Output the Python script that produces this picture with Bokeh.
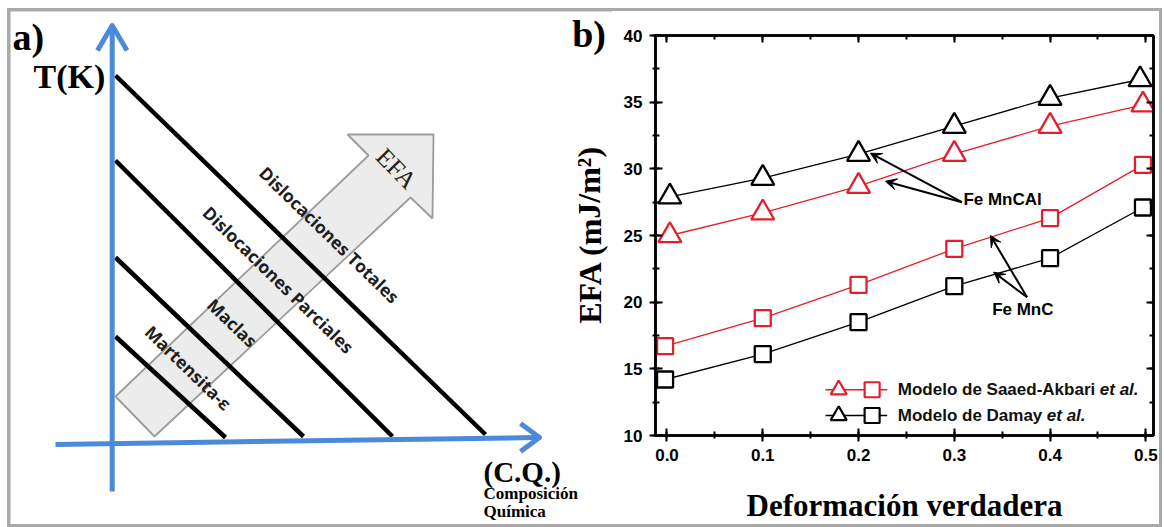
from bokeh.plotting import figure
from bokeh.layouts import row
from bokeh.models import (Range1d, LinearAxis, SingleIntervalTicker, PrintfTickFormatter,
                          CustomJSTickFormatter, Label, Arrow, VeeHead, InlineStyleSheet)
from bokeh.core.properties import value
from bokeh.embed import file_html
from bokeh.resources import INLINE

# ---------------- data (panel b) ----------------
deformacion_tri_damay = [0.003, 0.1, 0.2, 0.3, 0.4, 0.494]
efa_femncal_damay = [27.9, 29.3, 31.1, 33.2, 35.3, 36.7]
deformacion_tri_saaed = [0.003, 0.1, 0.2, 0.3, 0.4, 0.497]
efa_femncal_saaed = [25.0, 26.7, 28.7, 31.1, 33.2, 34.8]
deformacion_sq = [-0.002, 0.1, 0.2, 0.3, 0.4, 0.497]
efa_femnc_saaed = [16.7, 18.8, 21.3, 24.0, 26.3, 30.3]
efa_femnc_damay = [14.2, 16.1, 18.5, 21.2, 23.3, 27.1]
legend_labels = ["Modelo de Saaed-Akbari ", "Modelo de Damay "]
legend_italic = "et al."
annot_labels = ["Fe MnCAl", "Fe MnC"]
x_title = "Deformaci\u00f3n verdadera"
y_title = "EFA (mJ/m\u00b2)"

# ---------------- schematic (panel a) labels ----------------
regime_labels = ["Dislocaciones Totales", "Dislocaciones Parciales", "Maclas", "Martensita-\u03b5"]

RED = "#e41f2d"
BLUE = "#4b8ad9"
GRAY_BORDER = "#a9a9a9"
WA = 612  # width of the left canvas

# ======================= panel a (schematic, page-pixel coordinates) =======================
fa = figure(width=WA, height=527, x_range=Range1d(0, WA), y_range=Range1d(527, 0),
            output_backend="svg", toolbar_location=None, min_border=0,
            min_border_left=0, min_border_right=0, min_border_top=0, min_border_bottom=0,
            x_axis_location=None, y_axis_location=None, outline_line_color=None)
fa.xgrid.visible = False
fa.ygrid.visible = False

# outer border (left part)
fa.line([WA, 8.5, 8.5, WA], [9.5, 9.5, 525.5, 525.5], line_color=GRAY_BORDER, line_width=3)

# gray EFA arrow
arrow_xs = [115, 368, 347, 433, 432, 410, 154]
arrow_ys = [396, 155, 134, 134, 218, 197, 436]
fa.patch(arrow_xs, arrow_ys, fill_color="#ececec", line_color="#9b9b9b", line_width=1.8)

# black regime boundary lines
fa.multi_line(xs=[[115, 485], [115, 392], [115, 303], [115, 225]],
              ys=[[75, 434], [160, 436], [257, 436], [336, 437]],
              line_color="black", line_width=4.5)

# blue axes
fa.line([111.7, 111.7], [491, 26], line_color=BLUE, line_width=5)
fa.line([97, 111.7, 126.5], [50, 25, 50], line_color=BLUE, line_width=5, line_join="round")
fa.line([55, 537], [444, 437], line_color=BLUE, line_width=5)
fa.line([520, 539, 520], [423, 437, 451], line_color=BLUE, line_width=5, line_join="round")

# rotated labels
fa.text(x=[329, 278, 232, 188], y=[234, 279, 322, 367], text=regime_labels,
        angle=-0.77, text_align="center", text_baseline="middle",
        text_font=value("Open Sans"), text_font_style="bold", text_font_size="17.5px",
        text_color="#1e1e1e")
fa.text(x=[396], y=[168], text=["EFA"], angle=-0.80, text_align="center",
        text_baseline="middle", text_font=value("Liberation Serif"),
        text_font_size="25px", text_color="#222222")

fa.text(x=[12], y=[36.5], text=["a)"], text_font=value("Liberation Serif"),
        text_font_style="bold", text_font_size="38px", text_baseline="alphabetic")
fa.text(x=[33], y=[76], text=["T(K)"], text_font=value("Liberation Serif"),
        text_font_style="bold", text_font_size="34px", text_baseline="alphabetic")
fa.text(x=[483], y=[471.5], text=["(C.Q.)"], text_font=value("Liberation Serif"),
        text_font_style="bold", text_font_size="29px", text_baseline="alphabetic")
fa.text(x=[483, 483], y=[492.5, 510.5], text=["Composici\u00f3n", "Qu\u00edmica"],
        text_font=value("Liberation Serif"), text_font_style="bold",
        text_font_size="17px", text_baseline="alphabetic")

# panel b letter and its y-axis title (live in the left margin of panel b)
fa.text(x=[571.7], y=[33], text=["b)"], text_font=value("Liberation Serif"),
        text_font_style="bold", text_font_size="38px", text_baseline="alphabetic")
fa.text(x=[589], y=[234], text=[y_title], angle=1.5708, text_align="center",
        text_baseline="middle", text_font=value("Liberation Serif"),
        text_font_style="bold", text_font_size="32px")

# ======================= panel b =======================
fb = figure(frame_width=498, frame_height=400, min_border_left=655 - WA, min_border_right=11,
            min_border_top=35, min_border_bottom=92,
            x_range=Range1d(-0.012, 0.508), y_range=Range1d(10, 40),
            output_backend="svg", toolbar_location=None,
            outline_line_color="black", outline_line_width=2.5)
fb.xgrid.visible = False
fb.ygrid.visible = False

for f in (fa, fb):
    try:
        f.frame_align = False
    except Exception:
        pass

xt = SingleIntervalTicker(interval=0.1, num_minor_ticks=2)
yt = SingleIntervalTicker(interval=5, num_minor_ticks=2)
fb.xaxis.ticker = xt
fb.yaxis.ticker = yt
fb.xaxis.formatter = PrintfTickFormatter(format="%.1f")

for ax in (fb.xaxis[0], fb.yaxis[0]):
    ax.axis_line_width = 2.5
    ax.major_tick_line_width = 2
    ax.minor_tick_line_width = 2
    ax.major_tick_in = 7
    ax.major_tick_out = 6
    ax.minor_tick_in = 4
    ax.minor_tick_out = 3
    ax.major_label_text_font = "Liberation Sans"
    ax.major_label_text_font_style = "bold"
    ax.major_label_text_font_size = "17px"
    ax.major_label_text_color = "black"
    ax.axis_label_text_font = "Liberation Serif"
    ax.axis_label_text_font_style = "bold"
    ax.axis_label_text_color = "black"

fb.xaxis.major_label_standoff = 7
fb.yaxis.major_label_standoff = 7
fb.xaxis.axis_label = x_title
fb.xaxis.axis_label_text_font_size = "31px"
fb.xaxis.axis_label_standoff = 24

blank = CustomJSTickFormatter(code="return ''")
for loc, tk in (("above", xt), ("right", yt)):
    ax = LinearAxis(ticker=tk, formatter=blank, major_label_standoff=0,
                    axis_line_width=2.5, major_tick_line_width=2, minor_tick_line_width=2,
                    major_tick_in=7, major_tick_out=0, minor_tick_in=4, minor_tick_out=0)
    fb.add_layout(ax, loc)

# series
fb.line(deformacion_tri_damay, efa_femncal_damay, line_color="black", line_width=1.3)
fb.scatter(deformacion_tri_damay, efa_femncal_damay, marker="triangle", size=23,
           fill_color="white", line_color="black", line_width=2.3)
fb.line(deformacion_tri_saaed, efa_femncal_saaed, line_color=RED, line_width=1.3)
fb.scatter(deformacion_tri_saaed, efa_femncal_saaed, marker="triangle", size=23,
           fill_color="white", line_color=RED, line_width=2.3)
fb.line(deformacion_sq, efa_femnc_saaed, line_color=RED, line_width=1.3)
fb.scatter(deformacion_sq, efa_femnc_saaed, marker="square", size=16,
           fill_color="white", line_color=RED, line_width=2.3)
fb.line(deformacion_sq, efa_femnc_damay, line_color="black", line_width=1.3)
fb.scatter(deformacion_sq, efa_femnc_damay, marker="square", size=16,
           fill_color="white", line_color="black", line_width=2.3)

# annotation arrows
for xs, ys, xe, ye in [(0.308, 27.5, 0.2124, 31.17), (0.308, 27.5, 0.2281, 29.07),
                       (0.376, 20.37, 0.3377, 25.0), (0.376, 20.37, 0.3411, 22.25)]:
    fb.add_layout(Arrow(end=VeeHead(size=11, fill_color="black", line_color="black"),
                        x_start=xs, y_start=ys, x_end=xe, y_end=ye,
                        line_color="black", line_width=2))
for (ax_, ay_), t in zip([(0.3095, 27.7), (0.3395, 19.45)], annot_labels):
    fb.add_layout(Label(x=ax_, y=ay_, text=t, text_baseline="middle",
                        text_font="Liberation Sans", text_font_style="bold",
                        text_font_size="17px", text_color="black"))

# manual legend
leg_rows = [13.43, 11.5]
leg_cols = [RED, "black"]
for yy, col, lab, off in zip(leg_rows, leg_cols, legend_labels, [202, 149]):
    fb.line([0.1655, 0.2299], [yy, yy], line_color=col, line_width=1.3)
    fb.scatter([0.1793], [yy], marker="triangle", size=16, fill_color="white",
               line_color=col, line_width=2.2)
    fb.scatter([0.2142], [yy], marker="square", size=15, fill_color="white",
               line_color=col, line_width=2.2)
    fb.text(x=[0.241], y=[yy], text=[lab], text_baseline="middle",
            text_font=value("Liberation Sans"), text_font_style="bold",
            text_font_size="17px", text_color="#111111")
    fb.text(x=[0.241], y=[yy], text=[legend_italic], x_offset=off, text_baseline="middle",
            text_font=value("Liberation Sans"), text_font_style="bold italic",
            text_font_size="17px", text_color="#111111")

# outer gray border around the whole figure
border_css = InlineStyleSheet(css="""
:host::after {
  content: "";
  position: absolute;
  left: 7px; top: 8px; width: 1149px; height: 513px;
  border: 3px solid #a9a9a9;
  pointer-events: none;
}
""")
layout = row(fa, fb, stylesheets=[border_css])
open("out.html", "w").write(file_html(layout, INLINE))
